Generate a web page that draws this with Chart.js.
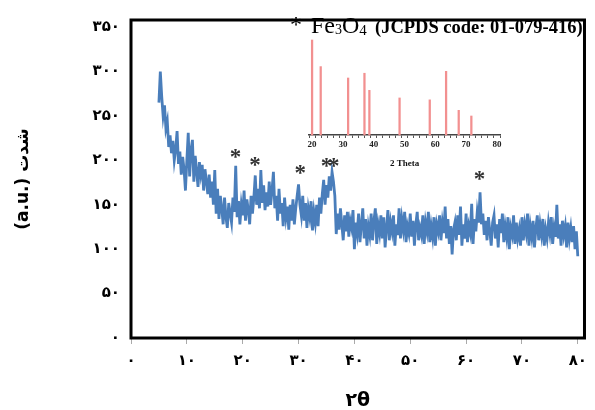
<!DOCTYPE html>
<html>
<head>
<meta charset="utf-8">
<script src="https://cdn.jsdelivr.net/npm/chart.js@4.4.1/dist/chart.umd.min.js"></script>
<style>
  html, body { margin:0; padding:0; background:#fff; }
  #wrap { position:relative; width:595px; height:410px; }
  #main { position:absolute; left:0; top:0; }
  #inset { position:absolute; left:290px; top:30px; }
</style>
</head>
<body>
<div id="wrap">
  <canvas id="main" width="595" height="410"></canvas>
  <canvas id="inset" width="230" height="145"></canvas>
</div>
<script>
// XRD pattern (one row = 5 degrees)
var twoTheta=[
  5.00,5.25,5.50,5.75,6.00,6.25,6.50,6.75,7.00,7.25,7.50,7.75,8.00,8.25,8.50,8.75,9.00,9.25,9.50,9.75,
  10.00,10.25,10.50,10.75,11.00,11.25,11.50,11.75,12.00,12.25,12.50,12.75,13.00,13.25,13.50,13.75,14.00,14.25,14.50,14.75,
  15.00,15.25,15.50,15.75,16.00,16.25,16.50,16.75,17.00,17.25,17.50,17.75,18.00,18.25,18.50,18.75,19.00,19.25,19.50,19.75,
  20.00,20.25,20.50,20.75,21.00,21.25,21.50,21.75,22.00,22.25,22.50,22.75,23.00,23.25,23.50,23.75,24.00,24.25,24.50,24.75,
  25.00,25.25,25.50,25.75,26.00,26.25,26.50,26.75,27.00,27.25,27.50,27.75,28.00,28.25,28.50,28.75,29.00,29.25,29.50,29.75,
  30.00,30.25,30.50,30.75,31.00,31.25,31.50,31.75,32.00,32.25,32.50,32.75,33.00,33.25,33.50,33.75,34.00,34.25,34.50,34.75,
  35.00,35.25,35.50,35.75,36.00,36.25,36.50,36.75,37.00,37.25,37.50,37.75,38.00,38.25,38.50,38.75,39.00,39.25,39.50,39.75,
  40.00,40.25,40.50,40.75,41.00,41.25,41.50,41.75,42.00,42.25,42.50,42.75,43.00,43.25,43.50,43.75,44.00,44.25,44.50,44.75,
  45.00,45.25,45.50,45.75,46.00,46.25,46.50,46.75,47.00,47.25,47.50,47.75,48.00,48.25,48.50,48.75,49.00,49.25,49.50,49.75,
  50.00,50.25,50.50,50.75,51.00,51.25,51.50,51.75,52.00,52.25,52.50,52.75,53.00,53.25,53.50,53.75,54.00,54.25,54.50,54.75,
  55.00,55.25,55.50,55.75,56.00,56.25,56.50,56.75,57.00,57.25,57.50,57.75,58.00,58.25,58.50,58.75,59.00,59.25,59.50,59.75,
  60.00,60.25,60.50,60.75,61.00,61.25,61.50,61.75,62.00,62.25,62.50,62.75,63.00,63.25,63.50,63.75,64.00,64.25,64.50,64.75,
  65.00,65.25,65.50,65.75,66.00,66.25,66.50,66.75,67.00,67.25,67.50,67.75,68.00,68.25,68.50,68.75,69.00,69.25,69.50,69.75,
  70.00,70.25,70.50,70.75,71.00,71.25,71.50,71.75,72.00,72.25,72.50,72.75,73.00,73.25,73.50,73.75,74.00,74.25,74.50,74.75,
  75.00,75.25,75.50,75.75,76.00,76.25,76.50,76.75,77.00,77.25,77.50,77.75,78.00,78.25,78.50,78.75,79.00,79.25,79.50,79.75,
  80.00
];
var intensity=[
  265,300,272,250,262,236,244,215,228,208,222,200,212,233,196,210,184,204,190,166,
  200,231,182,212,223,176,205,188,170,198,184,195,166,190,176,162,184,158,176,150,
  189,140,168,134,160,146,128,158,136,124,152,140,130,158,142,194,136,154,128,150,
  138,166,132,156,144,128,160,140,158,183,150,168,146,189,152,172,144,164,148,176,
  150,166,187,146,160,132,168,140,152,126,158,136,148,122,150,132,156,128,146,160,
  173,150,138,160,132,152,124,146,136,154,121,142,130,150,126,158,140,162,178,150,
  172,158,182,166,187,176,160,117,140,122,146,128,110,138,120,142,114,132,124,144,
  100,130,118,140,108,128,146,112,134,104,126,116,140,110,132,146,106,128,118,138,
  112,136,102,124,144,110,130,120,138,104,128,116,146,112,134,122,142,108,126,118,
  140,114,132,104,128,142,110,124,116,138,106,130,120,142,108,126,114,136,104,128,
  120,138,110,130,118,148,112,134,106,126,94,122,130,110,138,116,148,104,128,112,
  140,108,126,118,151,106,134,120,142,130,164,128,140,116,132,110,136,120,104,130,
  138,112,128,102,134,118,140,108,126,114,136,100,124,116,138,106,130,112,122,104,
  136,110,128,118,140,104,126,114,132,102,124,138,110,128,116,134,104,122,112,130,
  118,136,106,124,114,150,112,128,104,132,116,126,102,130,112,124,108,126,100,120,
  92
];

// asterisks marking the Fe3O4 reflections
var starTheta=[18.7,22.2,30.3,35.0,36.3,62.4];
var starLevel=[208,199,190,198,198,183];

// JCPDS 01-079-416 stick pattern (inset)
var jcpdsTheta=[20.0,22.8,31.7,37.0,38.6,48.4,58.2,63.5,67.6,71.7];
var jcpdsRel=[100,72,60,65,47,39,37,67,26,20];

var xTicks=[0,10,20,30,40,50,60,70,80];
var yTicks=[0,50,100,150,200,250,300,350];

var faFont='"DejaVu Sans", sans-serif';
var serif='"Liberation Serif", "Times New Roman", serif';

function toFa(n){
    return String(n).replace(/\d/g,function(d){return '۰۱۲۳۴۵۶۷۸۹'[d];});
}

var framePlugin={
    id:'frame',
    afterDatasetsDraw:function(chart){
        var ctx=chart.ctx, a=chart.chartArea;
        ctx.save();
        ctx.lineWidth=3;
        ctx.strokeStyle='#000';
        ctx.strokeRect(a.left,a.top,a.right-a.left,a.bottom-a.top);
        ctx.restore();
    }
};

var starPlugin={
    id:'stars',
    afterDatasetsDraw:function(chart){
        var ctx=chart.ctx, xs=chart.scales.x, ys=chart.scales.y;
        ctx.save();
        ctx.fillStyle='#333';
        ctx.font='bold 23px '+serif;
        ctx.textAlign='center';
        ctx.textBaseline='alphabetic';
        for(var i=0;i<starTheta.length;i++){
            ctx.fillText('*',xs.getPixelForValue(starTheta[i]),ys.getPixelForValue(starLevel[i])+11);
        }
        // inset heading: * Fe3O4 (JCPDS code: 01-079-416)
        ctx.fillStyle='#000';
        ctx.textAlign='left';
        ctx.font='24px '+serif;
        ctx.fillText('*',290,32);
        var x=311;
        ctx.fillText('Fe',x,33); x+=ctx.measureText('Fe').width;
        ctx.font='14px '+serif;
        ctx.fillText('3',x,34); x+=ctx.measureText('3').width;
        ctx.font='24px '+serif;
        ctx.fillText('O',x,33); x+=ctx.measureText('O').width;
        ctx.font='15px '+serif;
        ctx.fillText('4',x,35);
        ctx.font='bold 18.5px '+serif;
        ctx.fillText('(JCPDS code: 01-079-416)',375,33);
        ctx.restore();
    }
};

new Chart(document.getElementById('main'),{
    type:'line',
    data:{
        datasets:[{
            data:twoTheta.map(function(t,i){return {x:t,y:intensity[i]};}),
            borderColor:'#4a7ebb',
            borderWidth:2.8,
            pointRadius:0,
            tension:0
        }]
    },
    options:{
        responsive:false,
        animation:false,
        devicePixelRatio:1,
        layout:{padding:{top:16,right:4,left:0,bottom:0}},
        plugins:{legend:{display:false},tooltip:{enabled:false}},
        scales:{
            x:{
                type:'linear',
                min:0,
                max:81.2,
                afterBuildTicks:function(s){s.ticks=xTicks.map(function(v){return {value:v};});},
                ticks:{
                    callback:function(v){return toFa(v);},
                    font:{family:faFont,size:15,weight:'bold'},
                    color:'#000',
                    padding:8,
                    maxRotation:0,
                    autoSkip:false
                },
                grid:{drawOnChartArea:false,tickLength:6,color:'#aaa'},
                border:{display:false},
                title:{display:true,text:'۲θ',color:'#000',
                    font:{family:faFont,size:19,weight:'bold',lineHeight:0.9},padding:0},
                afterFit:function(s){s.height=72;}
            },
            y:{
                min:0,
                max:358,
                afterBuildTicks:function(s){s.ticks=yTicks.map(function(v){return {value:v};});},
                ticks:{
                    callback:function(v){return toFa(v);},
                    font:{family:faFont,size:15,weight:'bold'},
                    color:'#000',
                    padding:11
                },
                grid:{display:false,drawTicks:false},
                border:{display:false},
                title:{display:true,text:'(a.u.) شدت',color:'#000',
                    font:{family:faFont,size:17,weight:'bold'},padding:{top:13,bottom:0}},
                afterFit:function(s){s.width=131;}
            }
        }
    },
    plugins:[framePlugin,starPlugin]
});

new Chart(document.getElementById('inset'),{
    type:'bar',
    data:{
        datasets:[{
            data:jcpdsTheta.map(function(t,i){return {x:t,y:jcpdsRel[i]};}),
            backgroundColor:'#f29090',
            barThickness:1.6,
            clip:false
        }]
    },
    options:{
        responsive:false,
        animation:false,
        devicePixelRatio:1,
        layout:{padding:{top:10,right:20,left:19,bottom:0}},
        plugins:{legend:{display:false},tooltip:{enabled:false}},
        scales:{
            x:{
                type:'linear',
                min:20,
                max:80,
                ticks:{
                    stepSize:2,
                    autoSkip:false,
                    maxRotation:0,
                    callback:function(v){return v%10===0?v:'';},
                    font:{family:serif,size:9,weight:'bold'},
                    color:'#222',
                    padding:1
                },
                grid:{drawOnChartArea:false,tickLength:3,color:'#555'},
                border:{color:'#444',width:1.5},
                title:{display:true,text:'2 Theta',color:'#111',
                    font:{family:serif,size:9,weight:'bold'},padding:{top:0,bottom:6}},
                afterFit:function(s){s.height=40;}
            },
            y:{display:false,min:0,max:100}
        }
    }
});
</script>
</body>
</html>
